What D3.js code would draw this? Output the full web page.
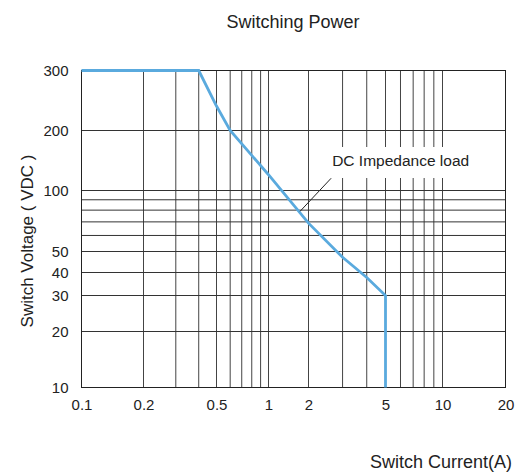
<!DOCTYPE html>
<html>
<head>
<meta charset="utf-8">
<script src="https://cdn.jsdelivr.net/npm/d3@7"></script>
<style>
  body { margin: 0; background: #fff; }
  svg { display: block; font-family: "Liberation Sans", Arial, sans-serif; }
</style>
</head>
<body>
<div class="container"></div>
<script>
// data
const xTicks = [0.1, 0.2, 0.5, 1, 2, 5, 10, 20];
const yTicks = [10, 20, 30, 40, 50, 100, 200, 300];
const xGrid = [0.2, 0.3, 0.4, 0.5, 0.6, 0.7, 0.8, 0.9, 1, 2, 3, 4, 5, 6, 7, 8, 9, 10];
const yGrid = [20, 30, 40, 50, 60, 70, 80, 90, 100, 200];
const current = [0.1, 0.4, 0.5, 0.6, 0.8, 1, 2, 3, 4, 5, 5];
const voltage = [300, 300, 236, 200, 150, 120, 69, 47, 37.6, 30, 10];
const noteText = "DC Impedance load";
const notePoint = [1.73, 79];

// the printed grid is not a clean log grid, so the scale is pinned at each labelled tick
const xStops = [81.5, 143.5, 216.5, 268.5, 308.5, 385.5, 442.5, 505.5];
const yStops = [387.5, 331.5, 295.5, 272.5, 251.5, 190.5, 130.5, 70.5];

const W = 526, H = 472;

let x = d3.scaleLog().domain(xTicks).range(xStops);
let y = d3.scaleLog().domain(yTicks).range(yStops);

let svg = d3.select(".container").append("svg").attr("width", W).attr("height", H);

//Title
svg.append("text").attr("x", 293).attr("y", 28).attr("text-anchor", "middle")
  .style("font-size", "18px").attr("fill", "#222").text("Switching Power");

//Grid lines
svg.append("g").selectAll("line").data(xGrid).enter().append("line")
  .attr("x1", d => x(d)).attr("x2", d => x(d))
  .attr("y1", y(300)).attr("y2", y(10))
  .attr("stroke", "#444").attr("stroke-width", 1);

svg.append("g").selectAll("line").data(yGrid).enter().append("line")
  .attr("x1", x(0.1)).attr("x2", x(20))
  .attr("y1", d => y(d)).attr("y2", d => y(d))
  .attr("stroke", "#333").attr("stroke-width", 1);

//White box behind the note
svg.append("rect").attr("x", 325).attr("y", 147).attr("width", 153).attr("height", 31).attr("fill", "#fff");

//Frame
svg.append("rect").attr("x", x(0.1)).attr("y", y(300))
  .attr("width", x(20) - x(0.1)).attr("height", y(10) - y(300))
  .attr("fill", "none").attr("stroke", "#222").attr("stroke-width", 1);

//Axes (labels only, the frame draws the domain)
const yAxis = d3.axisLeft(y).tickValues(yTicks).tickFormat(d3.format("d")).tickSize(0).tickPadding(13);
svg.append("g").attr("transform", "translate(" + x(0.1) + ",0)").call(yAxis)
  .call(g => g.select(".domain").remove())
  .selectAll("text").style("font-size", "15px").attr("fill", "#222").attr("font-family", "Liberation Sans, Arial, sans-serif");

const xAxis = d3.axisBottom(x).tickValues(xTicks).tickFormat(d => d).tickSize(0).tickPadding(12);
svg.append("g").attr("transform", "translate(0," + y(10) + ")").call(xAxis)
  .call(g => g.select(".domain").remove())
  .selectAll("text").style("font-size", "15px").attr("fill", "#222").attr("font-family", "Liberation Sans, Arial, sans-serif");

//Axis titles
svg.append("text").attr("transform", "rotate(-90)").attr("x", -241).attr("y", 33)
  .attr("text-anchor", "middle").style("font-size", "17px").attr("fill", "#222").text("Switch Voltage ( VDC )");

svg.append("text").attr("x", 512).attr("y", 468).attr("text-anchor", "end")
  .style("font-size", "18px").attr("fill", "#222").text("Switch Current(A)");

//Curve
const pts = current.map((c, i) => [c, voltage[i]]);
const line = d3.line().x(d => x(d[0])).y(d => y(d[1]));
svg.append("path").datum(pts).attr("d", line)
  .attr("fill", "none").attr("stroke", "#5aaade").attr("stroke-width", 2.8).attr("stroke-linejoin", "miter");

//Note with leader
const nx = x(notePoint[0]), ny = y(notePoint[1]);
svg.append("line").attr("x1", nx).attr("y1", ny).attr("x2", nx + 31).attr("y2", ny - 33)
  .attr("stroke", "#222").attr("stroke-width", 1);
svg.append("text").attr("x", nx + 32).attr("y", ny - 45)
  .style("font-size", "15.5px").attr("fill", "#222").text(noteText);
</script>
</body>
</html>
